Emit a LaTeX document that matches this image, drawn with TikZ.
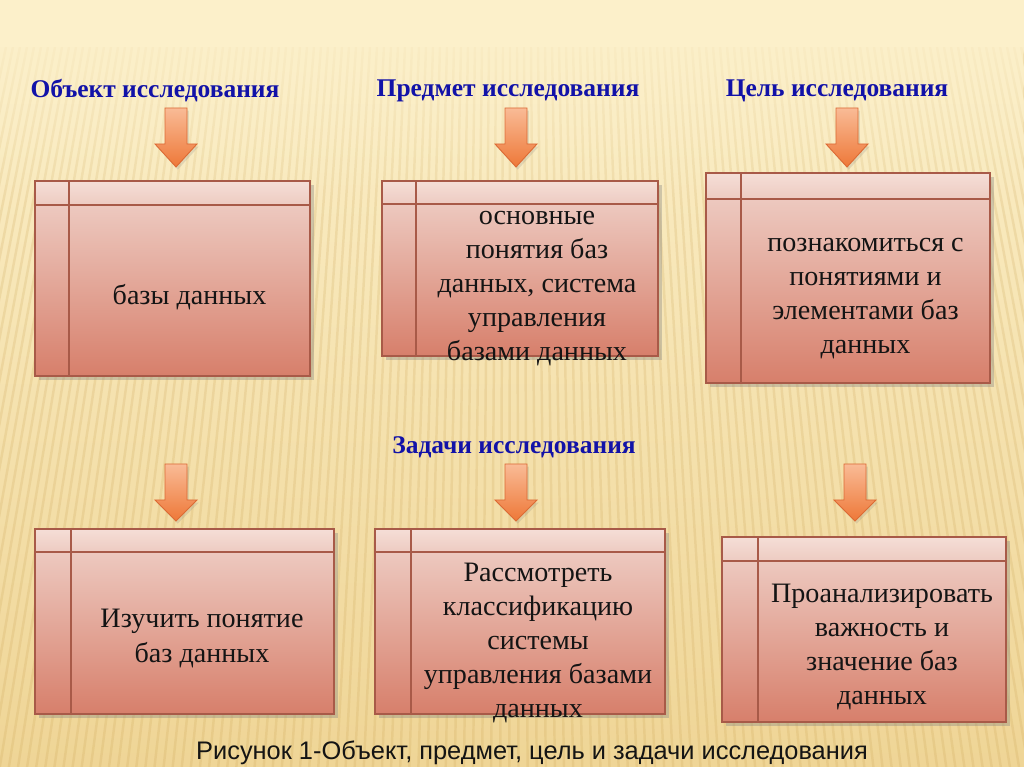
\documentclass[tikz,border=0pt]{standalone}
\usepackage{fontspec}
\setmainfont{Liberation Serif}
\newfontfamily\capfont{Liberation Sans}
\usetikzlibrary{shadows,fit,fadings}
\definecolor{bgtop}{HTML}{FCF0CA}
\definecolor{bgbot}{HTML}{EFD596}
\definecolor{stripe}{HTML}{C9A050}
\definecolor{boxtop}{HTML}{F0D3CB}
\definecolor{boxbot}{HTML}{D77F6B}
\definecolor{boxedge}{HTML}{A85A48}
\definecolor{headtop}{HTML}{F5DED7}
\definecolor{headbot}{HTML}{EDCBC1}
\definecolor{arrtop}{HTML}{F9BB96}
\definecolor{arrbot}{HTML}{EE7838}
\definecolor{arredge}{HTML}{DC6A34}
\definecolor{headblue}{HTML}{1212A8}
\newcommand\mybox[7]{%
  \node[box, fit={(#2,#3)(#4,#5)}] (#1) {};
  \shade[top color=headtop,bottom color=headbot] (#2,#6) rectangle (#4,#5);
  \draw[edge] (#2,#6) -- (#4,#6) (#7,#3) -- (#7,#5) (#2,#3) rectangle (#4,#5);
}
\newcommand\blockarrow[3]{%
  \shadedraw[arrowbody] (#1-11,#2) -- (#1+11,#2) -- (#1+11,#2-36) -- (#1+21,#2-36)
    -- (#1,#3) -- (#1-21,#2-36) -- (#1-11,#2-36) -- cycle;
}
\begin{document}
\begin{tikzpicture}[x=0.02cm,y=0.02cm,
  box/.style={draw=boxedge, line width=0.7pt, top color=boxtop, bottom color=boxbot,
    inner sep=0pt, outer sep=0pt,
    drop shadow={shadow xshift=2pt, shadow yshift=-2.5pt, opacity=0.35}},
  edge/.style={draw=boxedge, line width=0.7pt},
  arrowbody/.style={draw=arredge, line width=0.5pt, top color=arrtop, bottom color=arrbot,
    drop shadow={shadow xshift=1pt, shadow yshift=-1.5pt, opacity=0.2}},
  head/.style={font=\fontsize{14.5}{17}\selectfont\bfseries, text=headblue},
  boxtext/.style={font=\fontsize{16}{19.4}\selectfont, align=center, text=black!92},
  caption/.style={font=\capfont\fontsize{14.45}{17}\selectfont, text=black!92}]
\useasboundingbox (0,0) rectangle (1024,767);
\shade[top color=bgtop, bottom color=bgbot] (0,0) rectangle (1024,767);
\begin{scope}
  \clip (0,0) rectangle (1024,767);
  \foreach \x in {-400,-393,...,1420} {
    \draw[stripe, opacity=0.2, line width=1.4pt] (\x,720) -- ({\x-(512-\x)*0.3},0);
  }
  \fill[bgtop, path fading=south] (0,560) rectangle (1024,767);
  \fill[bgtop] (0,720) rectangle (1024,767);
\end{scope}

% headings
\node[head] (h1) at (155,676) {Объект исследования};
\node[head] (h2) at (508,676) {Предмет исследования};
\node[head] (h3) at (837,676) {Цель исследования};
\node[head] (h4) at (514,320) {Задачи исследования};

% arrows
\blockarrow{176}{659}{600}
\blockarrow{516}{659}{600}
\blockarrow{847}{659}{600}
\blockarrow{176}{303}{246}
\blockarrow{516}{303}{246}
\blockarrow{855}{303}{246}

% boxes
\mybox{b1}{35}{391}{310}{586}{562}{69}
\mybox{b2}{382}{411}{658}{586}{563}{416}
\mybox{b3}{706}{384}{990}{594}{568}{741}
\mybox{b4}{35}{53}{334}{238}{215}{71}
\mybox{b5}{375}{53}{665}{238}{215}{411}
\mybox{b6}{722}{45}{1006}{230}{206}{758}

% texts
\node[boxtext] (t1) at (189.5,470) {базы данных};
\node[boxtext] (t2) at (537,478.5) {основные\\понятия баз\\данных, система\\управления\\базами данных};
\node[boxtext] (t3) at (865.5,468.5) {познакомиться с\\понятиями и\\элементами баз\\данных};
\node[boxtext] (t4) at (202,128.5) {Изучить понятие\\баз данных};
\node[boxtext] (t5) at (538,124) {Рассмотреть\\классификацию\\системы\\управления базами\\данных};
\node[boxtext] (t6) at (882,120) {Проанализировать\\важность и\\значение баз\\данных};

\node[caption] (cap) at (532,14) {Рисунок 1-Объект, предмет, цель и задачи исследования};
\end{tikzpicture}
\end{document}
